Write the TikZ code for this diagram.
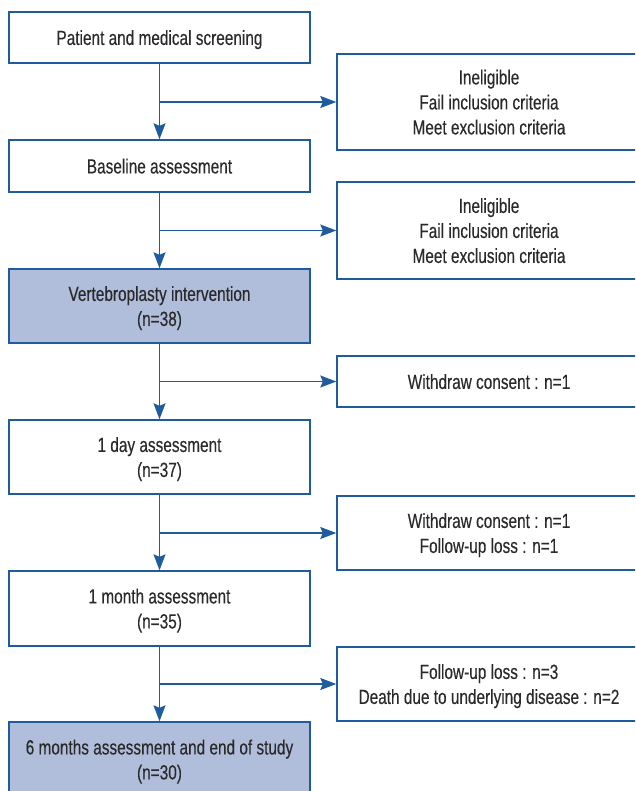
\documentclass[tikz,border=0pt]{standalone}
\usepackage{fontspec}
\setmainfont{Liberation Sans}[FakeStretch=0.75, FakeBold=0.3]
\usepackage{tikz}
\usetikzlibrary{arrows.meta, positioning}
\usepackage{xcolor}
\definecolor{flowline}{HTML}{1F5C9E}
\definecolor{flowfill}{HTML}{B0BDDB}
\definecolor{flowtext}{HTML}{2A2A2A}

\begin{document}
\begin{tikzpicture}[x=1pt,y=-1pt]
  \tikzstyle{every node}=[font=\fontsize{20.5}{25}\selectfont, text=flowtext, text depth=0pt]
  \tikzstyle{stage}=[draw=flowline, line width=1.4pt, align=center, minimum width=301pt, inner sep=0pt]
  \tikzstyle{drop}=[draw=flowline, line width=1.4pt, align=center, minimum width=304pt, inner sep=0pt]
  \tikzstyle{flow}=[draw=flowline, line width=1.4pt, -{Stealth[length=16pt, width=12pt, inset=2.5pt]}]

  \useasboundingbox (0,0) rectangle (635,791);
  \clip (0,0) rectangle (635,791);

  \node[stage, minimum height=51pt]                  (screen)   at (159.5,37.5) {Patient and medical screening};
  \node[stage, minimum height=52pt]                  (baseline) at (159.5,166)  {Baseline assessment};
  \node[stage, minimum height=74pt, fill=flowfill]   (vp)       at (159.5,306)  {Vertebroplasty intervention\\(n=38)};
  \node[stage, minimum height=74pt]                  (day)      at (159.5,457)  {1 day assessment\\(n=37)};
  \node[stage, minimum height=75pt]                  (month)    at (159.5,608.5) {1 month assessment\\(n=35)};
  \node[stage, minimum height=75pt, fill=flowfill]   (sixmo)    at (159.5,759.5) {6 months assessment and end of study\\(n=30)};

  \node[drop, minimum height=96pt] (inel_a)  at (489,102)   {Ineligible\\Fail inclusion criteria\\Meet exclusion criteria};
  \node[drop, minimum height=97pt] (inel_b)  at (489,230.5) {Ineligible\\Fail inclusion criteria\\Meet exclusion criteria};
  \node[drop, minimum height=51pt] (wd_a)    at (489,381.5) {Withdraw consent : n=1};
  \node[drop, minimum height=74pt] (wd_b)    at (489,533)   {Withdraw consent : n=1\\Follow-up loss : n=1};
  \node[drop, minimum height=74pt] (loss)    at (489,684)   {Follow-up loss : n=3\\Death due to underlying disease : n=2};

  \path
  (screen)   edge[flow] (baseline)
  (baseline) edge[flow] (vp)
  (vp)       edge[flow] (day)
  (day)      edge[flow] (month)
  (month)    edge[flow] (sixmo)
  (screen.south   |- inel_a.west) edge[flow] (inel_a.west)
  (baseline.south |- inel_b.west) edge[flow] (inel_b.west)
  (vp.south       |- wd_a.west)   edge[flow] (wd_a.west)
  (day.south      |- wd_b.west)   edge[flow] (wd_b.west)
  (month.south    |- loss.west)   edge[flow] (loss.west)
  ;
\end{tikzpicture}
\end{document}
